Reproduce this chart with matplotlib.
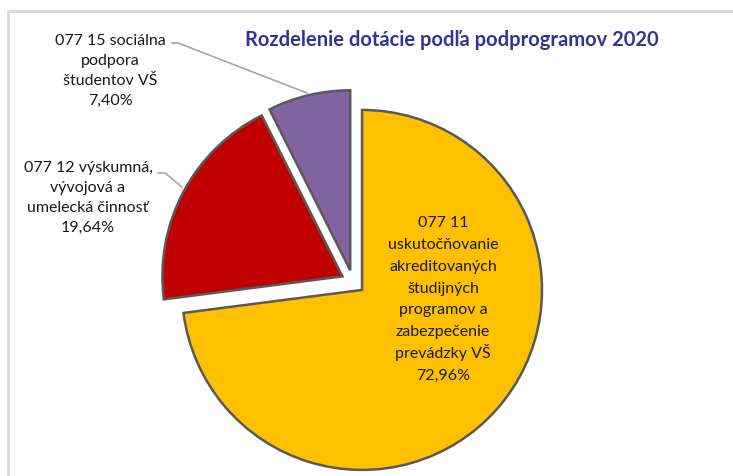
import matplotlib
matplotlib.use("Agg")
import matplotlib.pyplot as plt

# data
labels = ["077 11\nuskutočňovanie\nakreditovaných\nštudijných\nprogramov a\nzabezpečenie\nprevádzky VŠ\n72,96%",
          "077 12 výskumná,\nvývojová a\numelecká činnosť\n19,64%",
          "077 15 sociálna\npodpora\nštudentov VŠ\n7,40%"]
shares = [72.96, 19.64, 7.40]
colors = ["#FFC000", "#C00000", "#8064A2"]
title = "Rozdelenie dotácie podľa podprogramov 2020"

W, H = 733, 476
fam = ["Lato", "DejaVu Sans"]

fig = plt.figure(figsize=(W / 100, H / 100), dpi=100)
ax = fig.add_axes([0, 0, 1, 1])

# explode is in data units here (pie does not scale it by radius)
ax.pie(shares, colors=colors, startangle=90, counterclock=False,
       explode=[12, 12, 12], center=(353, H - 282), radius=180,
       wedgeprops=dict(edgecolor="#595959", linewidth=1.8))
ax.set_xlim(0, W)
ax.set_ylim(0, H)
ax.set_aspect("auto")
ax.axis("off")

# chart frame
ax.plot([8, 8, W], [0, H - 11, H - 11], color="#D9D9D9", lw=2, clip_on=False)

ax.text(452, H - 40, title, ha="center", va="center", fontsize=14.5,
        fontweight="bold", color="#333399", family=fam)


def put(label, x, yc, step):
    # one text per line so the spacing stays even
    lines = label.split("\n")
    n = len(lines)
    for i, line in enumerate(lines):
        y = yc + (i - (n - 1) / 2) * step + 5
        ax.text(x, H - y, line, ha="center", va="baseline", fontsize=11.5,
                color="#1a1a1a", family=fam)


put(labels[0], 443, 298.5, 21.9)
put(labels[1], 88, 197, 20)
put(labels[2], 110, 70, 20)

# leader lines
ax.plot([172, 178, 307], [H - 43, H - 43, H - 93], color="#A6A6A6", lw=1.2)
ax.plot([158, 165, 182], [H - 173, H - 173, H - 187], color="#A6A6A6", lw=1.2)

fig.savefig("out.png", dpi=100)
